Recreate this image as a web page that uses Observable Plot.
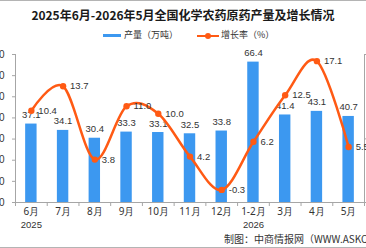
<!DOCTYPE html>
<html>
<head>
<meta charset="utf-8">
<script src="https://cdn.jsdelivr.net/npm/d3@7"></script>
<script src="https://cdn.jsdelivr.net/npm/@observablehq/plot@0.6"></script>
<style>
  html, body { margin: 0; padding: 0; background: #fff; }
  #chart { position: relative; width: 366px; height: 248px; overflow: hidden;
           font-family: "Noto Sans CJK SC", "Noto Sans", sans-serif; color: #333; }
  #chart svg { position: absolute; left: 0; top: 0; }
  .title { position: absolute; left: 0; width: 366px; top: 6px; text-align: center;
           font-size: 12px; font-weight: 700; color: #1a1a1a; line-height: 18px; white-space: nowrap; }
  .legend { position: absolute; top: 28px; left: 0; width: 366px; height: 16px; font-size: 9px; }
  .legend span { position: absolute; white-space: nowrap; }
  .caption { position: absolute; left: 224px; top: 232px; font-size: 10px; color: #333;
             white-space: nowrap; line-height: 14px; }
  .hline { position: absolute; left: 0; width: 366px; height: 1px; background: #b4b4b4; }
</style>
</head>
<body>
<div id="chart">
  <div class="hline" style="top:0"></div>
  <div class="title">2025年6月-2026年5月全国化学农药原药产量及增长情况</div>
  <div class="legend">
    <span style="left:103px;top:6px;width:18px;height:3px;background:#3c98f0"></span>
    <span style="left:124px;top:0;line-height:14px">产量（万吨）</span>
    <span style="left:197px;top:7px;width:22px;height:2px;background:#ff5a14"></span>
    <span style="left:205px;top:5px;width:6px;height:6px;border-radius:3px;background:#ff5a14"></span>
    <span style="left:221px;top:0;line-height:14px">增长率（%）</span>
  </div>
  <div class="caption">制图：中商情报网（WWW.ASKCI.COM）</div>
  <div class="hline" style="top:247px"></div>
</div>
<script>
// Months (Jan and Feb reported together), output in 10k tonnes, YoY growth in %
const months = ["6月", "7月", "8月", "9月", "10月", "11月", "12月", "1-2月", "3月", "4月", "5月"];
const years = ["2025", "", "", "", "", "", "", "2026", "", "", ""];
const output = [37.1, 34.1, 30.4, 33.3, 33.1, 32.5, 33.8, 66.4, 41.4, 43.1, 40.7];
const growth = [10.4, 13.7, 3.8, 11.0, 10.0, 4.2, -0.3, 6.2, 12.5, 17.1, 5.5];
const leftTicks = [0, 10, 20, 30, 40, 50, 60, 70];
const rightTicks = [-2, 6.6, 18];

const rows = months.map((m, i) => ({i, month: m, year: years[i], output: output[i], growth: growth[i]}));

// growth axis (-2..18) shares the frame with the output axis (0..70)
const gMin = -2, gMax = 18, yMax = 70;
const toY = g => (g - gMin) * yMax / (gMax - gMin);
const fromY = v => v * (gMax - gMin) / yMax + gMin;

const blue = "#3c98f0", orange = "#ff5a14", axisGray = "#a6a6a6", textGray = "#333";
const numFont = "Liberation Sans, Arial, sans-serif";
const center = d => d.i + 0.5;
const rowAt = v => rows[Math.round(v - 0.5)];

const plot = Plot.plot({
  width: 366,
  height: 248,
  marginTop: 54,
  marginBottom: 46,
  marginLeft: 15,
  marginRight: 2,
  style: {background: "transparent", overflow: "visible"},
  x: {type: "linear", domain: [0, months.length], axis: null},
  y: {domain: [0, yMax], axis: null},
  marks: [
    Plot.rectY(rows, {x1: d => d.i + 0.32, x2: d => d.i + 0.68, y1: 0, y2: "output", fill: blue}),
    // axis lines
    Plot.ruleX([0, months.length], {y1: 0, y2: yMax, stroke: axisGray}),
    Plot.ruleY([0], {stroke: axisGray}),
    // left axis (output)
    Plot.axisY({ticks: leftTicks, tickSize: 3, tickPadding: 8, stroke: axisGray, fill: textGray,
                fontSize: 10, fontFamily: numFont, label: null}),
    // right axis (growth)
    Plot.axisY({anchor: "right", ticks: rightTicks.map(toY), tickSize: 3, tickPadding: 4,
                tickFormat: v => d3.format(".0f")(fromY(v)), stroke: axisGray, fill: textGray,
                fontSize: 10, fontFamily: numFont, label: null}),
    // category boundary ticks
    Plot.axisX({ticks: d3.range(0, months.length + 1), tickSize: 4, tickFormat: () => "",
                stroke: axisGray, label: null}),
    // month labels
    Plot.axisX({ticks: rows.map(center), tickSize: 0, tickPadding: 5,
                tickFormat: v => rowAt(v).month, fill: textGray, fontSize: 10, label: null}),
    // year labels under the first month of each year
    Plot.axisX({ticks: rows.filter(d => d.year).map(center), tickSize: 0, tickPadding: 19,
                tickFormat: v => rowAt(v).year, fill: textGray, fontSize: 9.5, fontFamily: numFont, label: null}),
    // bar value labels
    Plot.text(rows, {x: center, y: "output", text: d => d.output.toFixed(1), dy: -9,
                     fontSize: 9.5, fontFamily: numFont, fill: textGray, style: "letter-spacing:0.5px"}),
    // growth line
    Plot.line(rows, {x: center, y: d => toY(d.growth), curve: "cardinal",
                     stroke: orange, strokeWidth: 2.5}),
    Plot.dot(rows, {x: center, y: d => toY(d.growth), r: 3.2, fill: orange, stroke: "none"}),
    Plot.text(rows, {x: center, y: d => toY(d.growth), text: d => d.growth.toFixed(1),
                     textAnchor: "start", dx: 7, fontSize: 9.5, fontFamily: numFont, fill: textGray,
                     style: "letter-spacing:0.5px"})
  ]
});
document.getElementById("chart").appendChild(plot);
</script>
</body>
</html>
